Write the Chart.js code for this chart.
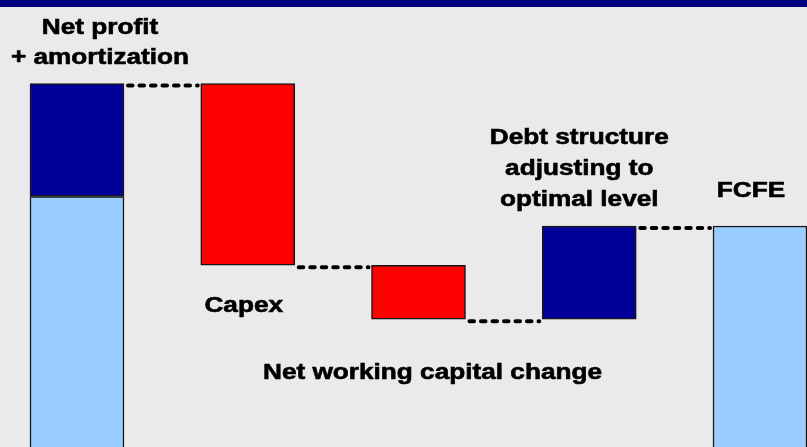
<!DOCTYPE html>
<html>
<head>
<meta charset="utf-8">
<script src="https://cdn.jsdelivr.net/npm/chart.js@4/dist/chart.umd.min.js"></script>
<style>
  html, body { margin: 0; padding: 0; background: #eaeaea; }
  canvas { display: block; }
</style>
</head>
<body>
<canvas id="waterfall" width="807" height="447"></canvas>
<script>
// Waterfall: net profit + amortization down to FCFE (arbitrary units)
const categories = ['Net profit + amortization', 'Capex', 'Net working capital change',
                    'Debt structure adjusting to optimal level', 'FCFE'];
const netProfit = 60;
const amortization = 23;
// capex, net working capital change, debt structure adjustment
const changes = [-37, -11, 19];

// text shown next to each bar, one entry per category
const barLabels = [
    ['Net profit', '+ amortization'],
    ['Capex'],
    ['Net working capital change'],
    ['Debt structure', 'adjusting to', 'optimal level'],
    ['FCFE']
];

const colLight = '#99ccff';
const colNavy = '#000099';
const colRed = '#ff0000';

// build floating ranges for the bars and the levels for the dotted connectors
function get_waterfall(){
    let total = netProfit + amortization;
    let base = [[0, netProfit]];
    let colors = [colLight];
    let levels = [total];
    for(const c of changes){
        let next = total + c;
        base.push([Math.min(total, next), Math.max(total, next)]);
        colors.push(c < 0 ? colRed : colNavy);
        total = next;
        levels.push(total);
    }
    base.push([0, total]);
    colors.push(colLight);
    let top = [[netProfit, netProfit + amortization], null, null, null, null];
    return { base: base, colors: colors, top: top, levels: levels };
}

// label placement: offset from the bar centre and text baselines (px)
const labelPlace = [
    { dx: 23, y: [34, 64] },
    { dx: -4, y: [312] },
    { dx: 14, y: [379] },
    { dx: -10, y: [144, 175, 206] },
    { dx: -9, y: [197] }
];

const backdrop = {
    id: 'backdrop',
    beforeDraw(chart){
        const ctx = chart.ctx;
        ctx.save();
        ctx.fillStyle = '#eaeaea';
        ctx.fillRect(0, 0, chart.width, chart.height);
        ctx.fillStyle = '#000080';
        ctx.fillRect(0, 0, chart.width, 7);
        ctx.restore();
    }
};

const connectors = {
    id: 'connectors',
    afterDatasetsDraw(chart){
        const ctx = chart.ctx;
        const meta = chart.getDatasetMeta(0);
        const ys = chart.scales.y;
        const wf = get_waterfall();
        ctx.save();
        ctx.strokeStyle = '#000';
        ctx.lineWidth = 4;
        ctx.lineCap = 'round';
        ctx.setLineDash([4.5, 7]);
        for(let i=0;i<meta.data.length-1;i++){
            let a = meta.data[i];
            let b = meta.data[i+1];
            let y = ys.getPixelForValue(wf.levels[i]) + 2;
            ctx.beginPath();
            ctx.moveTo(a.x + a.width/2 + 4, y);
            ctx.lineTo(b.x - b.width/2 - 3, y);
            ctx.stroke();
        }
        ctx.restore();
    }
};

const barText = {
    id: 'barText',
    afterDraw(chart){
        const ctx = chart.ctx;
        const meta = chart.getDatasetMeta(0);
        ctx.save();
        ctx.fillStyle = '#000';
        ctx.strokeStyle = '#000';
        ctx.lineWidth = 0.6;
        ctx.font = 'bold 22px "Liberation Sans", Arial, sans-serif';
        ctx.textAlign = 'center';
        ctx.textBaseline = 'alphabetic';
        for(let i=0;i<barLabels.length;i++){
            let cx = meta.data[i].x + labelPlace[i].dx;
            for(let j=0;j<barLabels[i].length;j++){
                ctx.save();
                ctx.translate(cx, labelPlace[i].y[j]);
                ctx.scale(1.19, 1);
                ctx.fillText(barLabels[i][j], 0, 0);
                ctx.strokeText(barLabels[i][j], 0, 0);
                ctx.restore();
            }
        }
        ctx.restore();
    }
};

function make_waterfall(canvas_name){
    const wf = get_waterfall();
    const chart_canvas = document.getElementById(canvas_name);
    new Chart(chart_canvas, {
        type: 'bar',
        data: {
            labels: categories,
            datasets: [
                {
                    data: wf.base,
                    backgroundColor: wf.colors,
                    borderColor: '#151515',
                    borderWidth: 1.5,
                    borderSkipped: false,
                    barThickness: 94,
                    grouped: false,
                    clip: false
                },
                {
                    data: wf.top,
                    backgroundColor: colNavy,
                    borderColor: '#151515',
                    borderWidth: 1.5,
                    borderSkipped: false,
                    barThickness: 94,
                    grouped: false,
                    clip: false
                }
            ]
        },
        options: {
            responsive: false,
            animation: false,
            layout: { padding: { left: 77, right: 47, top: 0, bottom: 0 } },
            scales: {
                x: { display: false, offset: false },
                y: { display: false, min: 9, max: 100 }
            },
            plugins: {
                legend: { display: false },
                tooltip: { enabled: false }
            }
        },
        plugins: [backdrop, connectors, barText]
    });
}

make_waterfall('waterfall');
</script>
</body>
</html>
